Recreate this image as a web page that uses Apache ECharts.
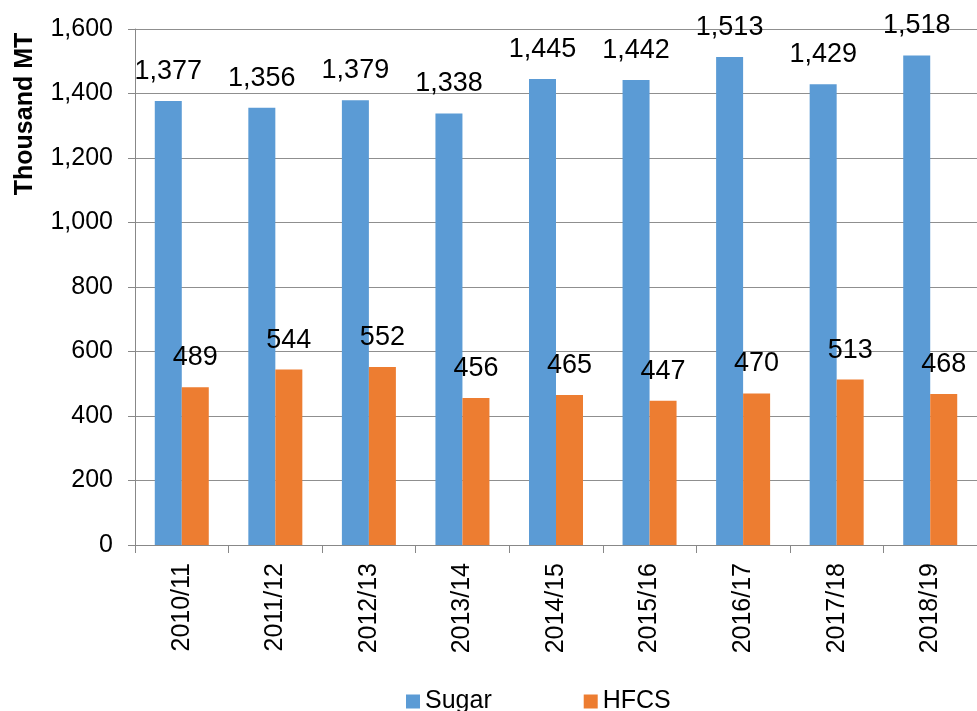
<!DOCTYPE html>
<html>
<head>
<meta charset="utf-8">
<script src="https://cdn.jsdelivr.net/npm/echarts@6/dist/echarts.min.js"></script>
<style>
  html, body { margin: 0; padding: 0; background: #fff; }
  #chart { width: 977px; height: 711px; }
</style>
</head>
<body>
<div id="chart"></div>
<script>
// seasons on the x axis
const seasons = ['2010/11', '2011/12', '2012/13', '2013/14', '2014/15', '2015/16', '2016/17', '2017/18', '2018/19'];
// thousand MT
const sugar = [1377, 1356, 1379, 1338, 1445, 1442, 1513, 1429, 1518];
const hfcs = [489, 544, 552, 456, 465, 447, 470, 513, 468];

const font = 'Liberation Sans, Arial, sans-serif';
const fmt = v => Number(v).toLocaleString('en-US');

const chart = echarts.init(document.getElementById('chart'));

const barLabel = {
    show: true,
    position: 'top',
    distance: 16,
    color: '#000',
    fontSize: 27,
    fontFamily: font,
    formatter: p => fmt(p.value)
};

chart.setOption({
    animation: false,
    backgroundColor: '#fff',
    grid: { left: 135, right: -8, top: 29, bottom: 166 },
    legend: {
        left: 401,
        top: 684,
        itemWidth: 14,
        itemHeight: 14,
        itemGap: 92,
        icon: 'rect',
        textStyle: { fontSize: 25, fontFamily: font, color: '#000' },
        data: ['Sugar', 'HFCS']
    },
    // axis title sits near the top in the original, so it's drawn by hand
    graphic: [{
        type: 'text',
        x: 25,
        y: 114,
        rotation: Math.PI / 2,
        style: {
            text: 'Thousand MT',
            font: 'bold 25px ' + font,
            fill: '#000',
            align: 'center',
            verticalAlign: 'middle'
        }
    }],
    xAxis: {
        type: 'category',
        data: seasons,
        axisLine: { lineStyle: { color: '#888', width: 1 } },
        axisTick: { show: true, length: 8, lineStyle: { color: '#888' } },
        axisLabel: { rotate: 90, margin: 18, fontSize: 25, fontFamily: font, color: '#000' }
    },
    yAxis: {
        type: 'value',
        min: 0,
        max: 1600,
        interval: 200,
        axisLine: { show: true, lineStyle: { color: '#888', width: 1 } },
        axisTick: { show: true, length: 7, lineStyle: { color: '#888' } },
        splitLine: { lineStyle: { color: '#8f8f8f', width: 1 } },
        axisLabel: { margin: 22, fontSize: 25, fontFamily: font, color: '#000', formatter: fmt }
    },
    series: [
        {
            name: 'Sugar',
            type: 'bar',
            data: sugar,
            barWidth: 27,
            barGap: '0%',
            itemStyle: { color: '#5B9BD5' },
            label: barLabel
        },
        {
            name: 'HFCS',
            type: 'bar',
            data: hfcs,
            barWidth: 27,
            itemStyle: { color: '#ED7D31' },
            label: barLabel
        }
    ]
});
</script>
</body>
</html>
